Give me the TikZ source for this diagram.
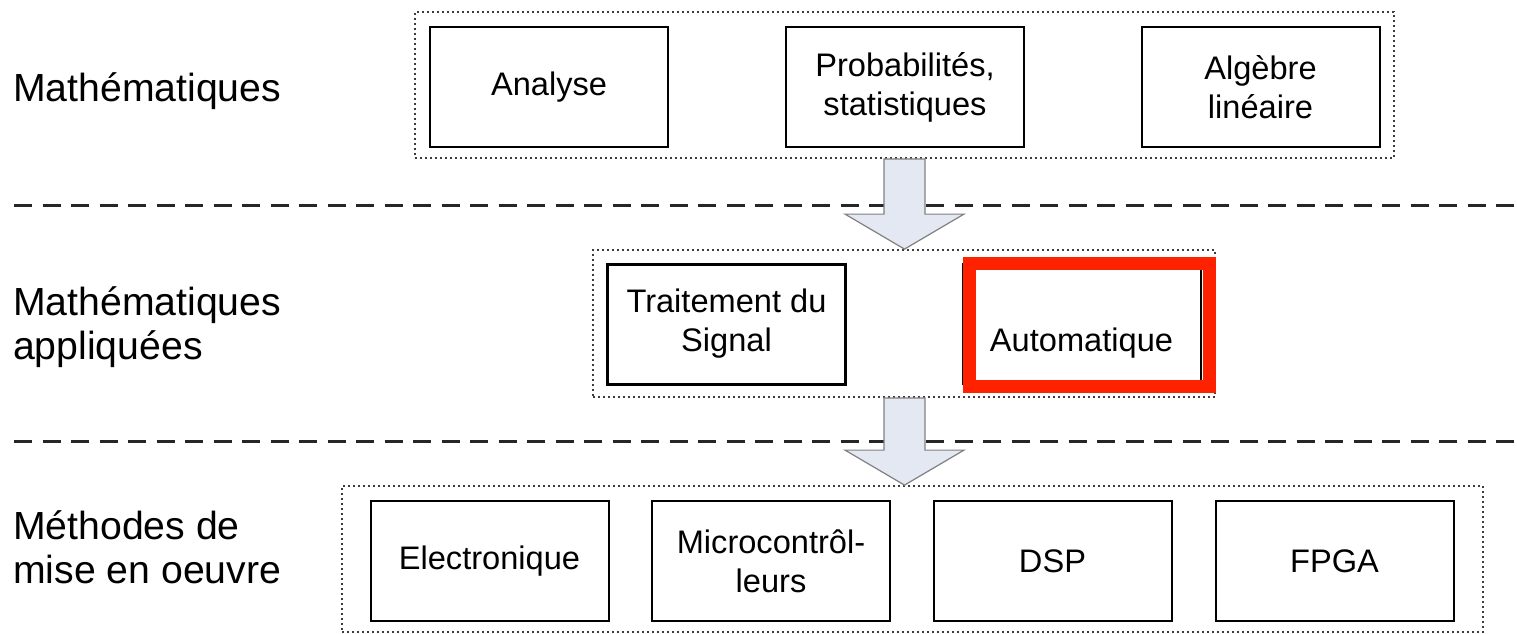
\documentclass[tikz,border=0pt]{standalone}
\usepackage{fontspec}
\setmainfont{Liberation Sans}
\usetikzlibrary{calc}
\definecolor{arrowfill}{RGB}{228,232,243}
\definecolor{arrowline}{RGB}{128,128,128}
\definecolor{hilite}{RGB}{255,34,0}
\definecolor{dotgray}{RGB}{60,60,60}
\tikzset{
  levellabel/.style={anchor=base west, align=left, inner sep=0pt,
    font=\fontsize{39.2}{43.5}\selectfont},
  topicbox/.style={draw, line width=2pt, minimum width=238pt, minimum height=120pt,
    align=center, inner sep=0pt, font=\fontsize{32.6}{39}\selectfont},
  group/.style={draw=dotgray, line width=1.8pt, dash pattern=on 1.8pt off 3.2pt,
    inner sep=0pt},
  separator/.style={line width=3pt, dash pattern=on 18pt off 10.5pt, color=black!85},
  blockarrow/.style={fill=arrowfill, draw=arrowline, line width=1.2pt, line join=miter},
}
\begin{document}
\begin{tikzpicture}[x={(1pt,0pt)}, y={(0pt,-1pt)}]
\useasboundingbox (0,0) rectangle (1517,634);

% level separators
\draw[separator] (14,205) -- (1517,205);
\draw[separator] (14,441) -- (1517,441);

% level names (base anchor sits on the last line)
\node[levellabel] (lvlA) at (13,101) {Mathématiques};
\node[levellabel] (lvlB) at (13,359) {Mathématiques\\appliquées};
\node[levellabel] (lvlC) at (13,583) {Méthodes de\\mise en oeuvre};

% groups
\node[group, minimum width=979pt, minimum height=146pt] (grpA) at (904.5,85) {};
\node[group, minimum width=622pt, minimum height=147pt] (grpB) at (904,323.5) {};
\node[group, minimum width=1141pt, minimum height=146pt] (grpC) at (912.5,559) {};

% mathematics
\node[topicbox] (analyse) at (549,87) {Analyse};
\node[topicbox] (proba) at (905,87) {Probabilités,\\statistiques};
\node[topicbox] (algebre) at (1260.5,87) {Algèbre\\linéaire};

% applied mathematics
\node[topicbox, line width=3pt] (signal) at (726.5,324) {Traitement du\\Signal};
\node[topicbox] (auto) at (1081.5,324) {\vphantom{Traitement du}\\Automatique};
\draw[hilite, line width=13pt] (969.5,263.5) rectangle (1209.5,386);

% implementation
\node[topicbox] (electro) at (489.5,561) {Electronique};
\node[topicbox] (micro) at (771,561) {Microcontrôl-\\leurs};
\node[topicbox] (dsp) at (1052.5,561) {DSP};
\node[topicbox] (fpga) at (1334.5,561) {FPGA};

% block arrows between levels
\coordinate (axis) at (904.5,0);
\path (grpA.south -| axis) coordinate (t1) (grpB.north -| axis) coordinate (h1);
\draw[blockarrow] ($(t1)+(-20.5,0)$) -- ($(h1)+(-20.5,-35)$) -- ($(h1)+(-59.5,-35)$)
  -- (h1) -- ($(h1)+(59.5,-35)$) -- ($(h1)+(20.5,-35)$) -- ($(t1)+(20.5,0)$) -- cycle;
\path (grpB.south -| axis) coordinate (t2) (grpC.north -| axis) coordinate (h2);
\draw[blockarrow] ($(t2)+(-20.5,0)$) -- ($(h2)+(-20.5,-35)$) -- ($(h2)+(-59.5,-35)$)
  -- (h2) -- ($(h2)+(59.5,-35)$) -- ($(h2)+(20.5,-35)$) -- ($(t2)+(20.5,0)$) -- cycle;
\end{tikzpicture}
\end{document}
